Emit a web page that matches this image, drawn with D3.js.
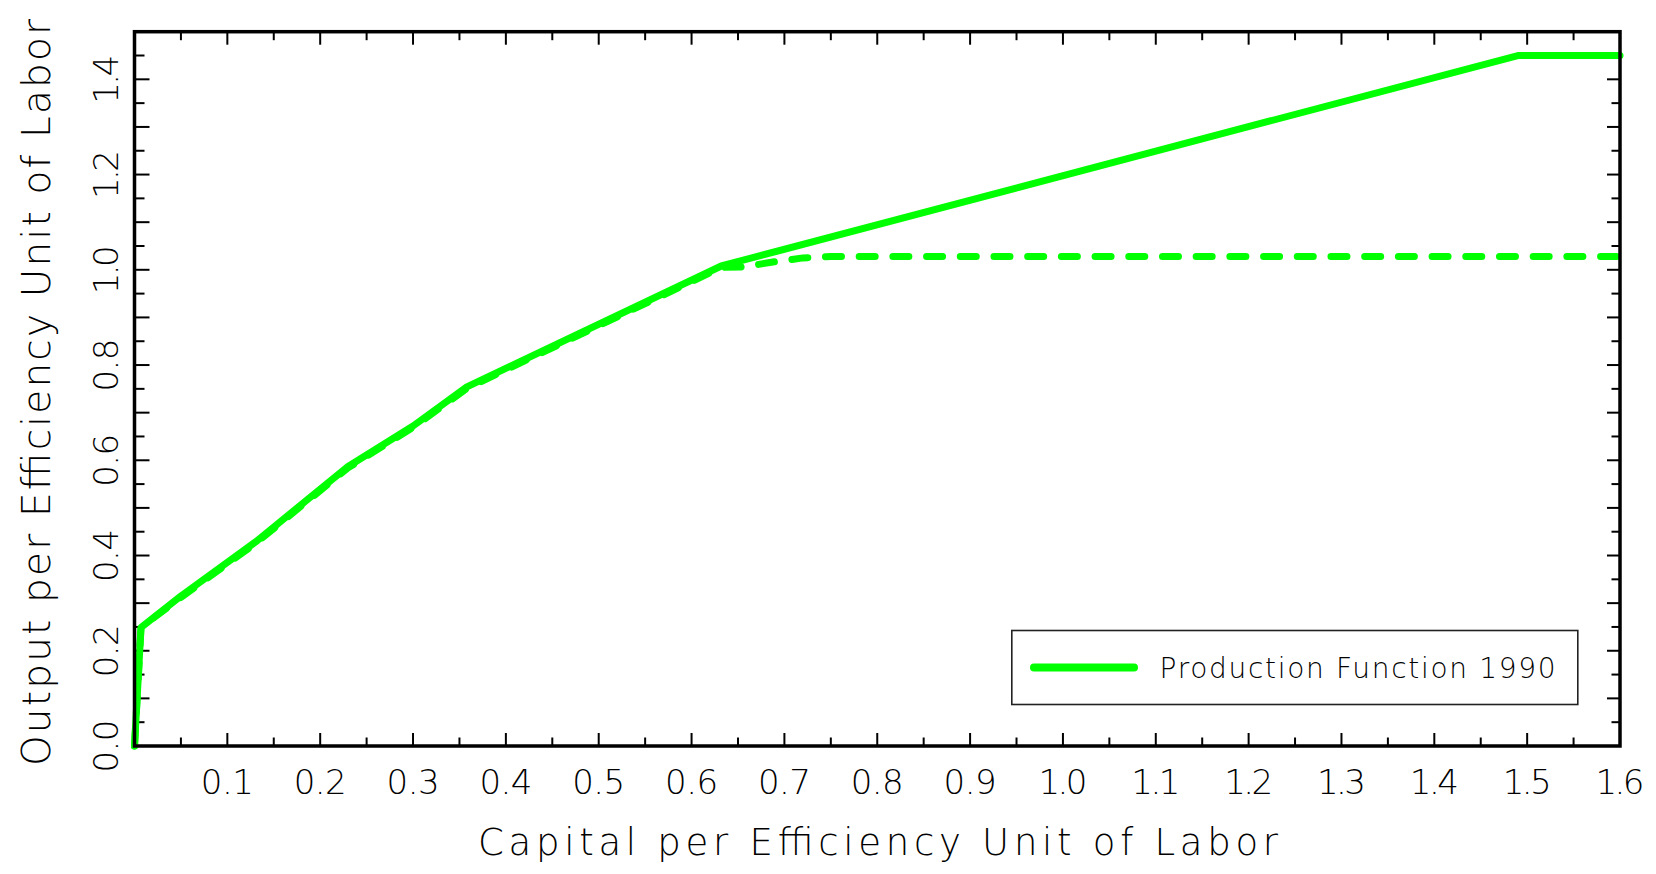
<!DOCTYPE html>
<html>
<head>
<meta charset="utf-8">
<script src="https://cdn.jsdelivr.net/npm/d3@7"></script>
<style>
  html, body { margin: 0; padding: 0; background: #fff; }
  svg { display: block; }
  text { font-family: "DejaVu Sans", "Liberation Sans", sans-serif; font-weight: 200; fill: #000; }
</style>
</head>
<body>
<svg id="chart" width="1656" height="874"></svg>
<script>
// ---- data ----
const solidX = [0, 0.007, 0.05, 0.13, 0.23, 0.30, 0.358, 0.632, 1.49, 1.6];
const solidY = [0, 0.249, 0.315, 0.428, 0.587, 0.672, 0.754, 1.008, 1.45, 1.45];
const dashedX = [0, 0.007, 0.05, 0.13, 0.23, 0.30, 0.358, 0.632, 0.655, 0.69, 0.72, 0.75, 1.6];
const dashedY = [0, 0.249, 0.312, 0.425, 0.584, 0.669, 0.751, 1.005, 1.006, 1.017, 1.025, 1.028, 1.028];
const xTickLabels = ["0.1","0.2","0.3","0.4","0.5","0.6","0.7","0.8","0.9","1.0","1.1","1.2","1.3","1.4","1.5","1.6"];
const yTickLabels = ["0.0","0.2","0.4","0.6","0.8","1.0","1.2","1.4"];
const xTitle = "Capital per Efficiency Unit of Labor";
const yTitle = "Output per Efficiency Unit of Labor";
const legendLabel = "Production Function 1990";

// ---- layout ----
const L = 134.5, R = 1620, T = 31.7, B = 746;
const green = "#00ff00";
const svg = d3.select("#chart");

const x = d3.scaleLinear().domain([0, 1.6]).range([L, R]);
const y = d3.scaleLinear().domain([0, 1.5]).range([B, T]);

const solid = solidX.map((v, i) => [v, solidY[i]]);
const dashed = dashedX.map((v, i) => [v, dashedY[i]]);
const line = d3.line().x(d => x(d[0])).y(d => y(d[1]));

// ticks every 0.05, major at 0.1
const xMinor = d3.range(1, 32).map(i => i * 0.05);
const yMinor = d3.range(1, 30).map(i => i * 0.05);
const isMajor = v => Math.abs(Math.round(v * 10) - v * 10) < 1e-6;

const tickG = svg.append("g").attr("stroke", "#000").attr("stroke-width", 2);
xMinor.forEach(v => {
  const len = isMajor(v) ? 13 : 8.5;
  tickG.append("line").attr("x1", x(v)).attr("x2", x(v)).attr("y1", B).attr("y2", B - len);
  tickG.append("line").attr("x1", x(v)).attr("x2", x(v)).attr("y1", T).attr("y2", T + len);
});
yMinor.forEach(v => {
  const lenL = isMajor(v) ? 15 : 10;
  const lenR = isMajor(v) ? 13 : 8.5;
  tickG.append("line").attr("y1", y(v)).attr("y2", y(v)).attr("x1", L).attr("x2", L + lenL);
  tickG.append("line").attr("y1", y(v)).attr("y2", y(v)).attr("x1", R).attr("x2", R - lenR);
});

// lines
svg.append("path").datum(dashed)
  .attr("d", line).attr("fill", "none").attr("stroke", green)
  .attr("stroke-width", 7).attr("stroke-linecap", "round").attr("stroke-linejoin", "round")
  .attr("stroke-dasharray", "16 17.7");
svg.append("path").datum(solid)
  .attr("d", line).attr("fill", "none").attr("stroke", green)
  .attr("stroke-width", 7).attr("stroke-linecap", "round").attr("stroke-linejoin", "round");

// frame
svg.append("rect").attr("x", L).attr("y", T).attr("width", R - L).attr("height", B - T)
  .attr("fill", "none").attr("stroke", "#000").attr("stroke-width", 3.5);

// x tick labels
svg.append("g").selectAll("text").data(xTickLabels).join("text")
  .attr("x", d => x(+d)).attr("y", 794)
  .attr("text-anchor", "middle").attr("font-size", 34)
  .attr("textLength", d => d.startsWith("1.") ? 49 : 53).attr("lengthAdjust", "spacing")
  .text(d => d);

// y tick labels (rotated)
svg.append("g").selectAll("text").data(yTickLabels).join("text")
  .attr("transform", d => `translate(118,${y(+d)}) rotate(-90)`)
  .attr("text-anchor", "middle").attr("font-size", 34)
  .attr("textLength", d => d.startsWith("1.") ? 49 : 53).attr("lengthAdjust", "spacing")
  .text(d => d);

// titles
svg.append("text").attr("x", 878).attr("y", 855)
  .attr("text-anchor", "middle").attr("font-size", 37)
  .attr("textLength", 800).attr("lengthAdjust", "spacing")
  .text(xTitle);
svg.append("text").attr("transform", "translate(50,392.5) rotate(-90)")
  .attr("text-anchor", "middle").attr("font-size", 39)
  .attr("textLength", 747).attr("lengthAdjust", "spacing")
  .text(yTitle);

// legend
const lg = svg.append("g");
lg.append("rect").attr("x", 1011.8).attr("y", 630.5).attr("width", 566).attr("height", 74)
  .attr("fill", "#fff").attr("stroke", "#222").attr("stroke-width", 1.6);
lg.append("line").attr("x1", 1034).attr("x2", 1134).attr("y1", 667.5).attr("y2", 667.5)
  .attr("stroke", green).attr("stroke-width", 8).attr("stroke-linecap", "round");
lg.append("text").attr("x", 1159.6).attr("y", 678).attr("font-size", 28)
  .attr("textLength", 396).attr("lengthAdjust", "spacing")
  .text(legendLabel);
</script>
</body>
</html>
